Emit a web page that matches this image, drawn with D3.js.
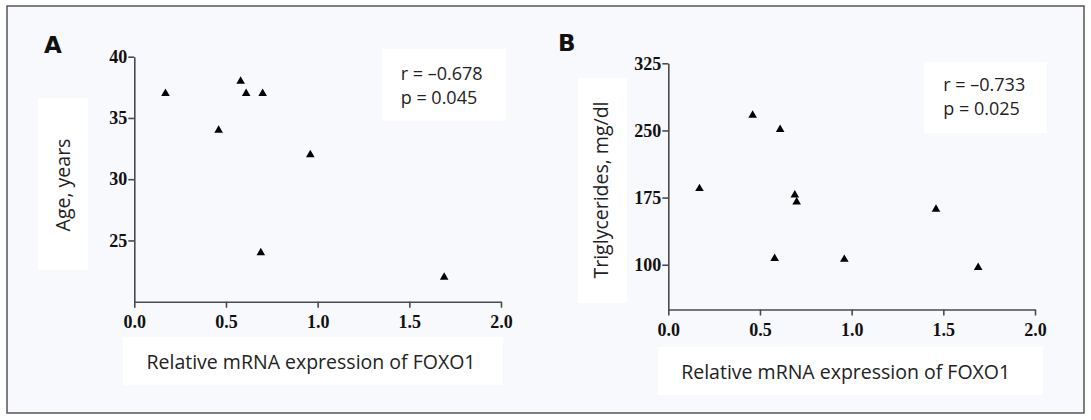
<!DOCTYPE html>
<html><head><meta charset="utf-8">
<script src="https://cdn.jsdelivr.net/npm/d3@7"></script>
<style>html,body{margin:0;padding:0;background:#fff;}svg{display:block;}</style>
</head><body>
<svg id="chart" width="1091" height="420"></svg>
<script>
// Panel A: Age vs FOXO1
const foxoA = [0.17, 0.58, 0.61, 0.70, 0.46, 0.96, 0.69, 1.69];
const ageA  = [37, 38, 37, 37, 34, 32, 24, 22];
// Panel B: Triglycerides vs FOXO1
const foxoB = [0.17, 0.46, 0.61, 0.58, 0.69, 0.70, 0.96, 1.46, 1.69];
const tgB   = [185, 267, 251, 107, 178, 170, 106, 162, 97];
const xTicks = [0, 0.5, 1.0, 1.5, 2.0];
const yTicksA = [25, 30, 35, 40];
const yTicksB = [100, 175, 250, 325];
const statsA = ["r = \u20130.678", "p = 0.045"];
const statsB = ["r = \u20130.733", "p = 0.025"];
const xTitle = "Relative mRNA expression of FOXO1";

const svg = d3.select("#chart");
svg.append("rect").attr("x",7).attr("y",6).attr("width",1077).attr("height",407)
  .attr("fill","#f8f9fc").attr("stroke","#555").attr("stroke-width",1.5);

function panel(cfg){
  const g = svg.append("g");
  cfg.boxes.forEach(b => g.append("rect").attr("x",b[0]).attr("y",b[1]).attr("width",b[2]).attr("height",b[3]).attr("fill","#fff"));
  const x = d3.scaleLinear().domain([0,2]).range(cfg.xr);
  const y = d3.scaleLinear().domain(cfg.yd).range(cfg.yr);
  const xa = g.append("g").attr("transform",`translate(0,${cfg.yr[0]})`)
    .call(d3.axisBottom(x).tickValues(xTicks).tickFormat(d3.format(".1f")).tickSize(6).tickSizeOuter(0));
  const ya = g.append("g").attr("transform",`translate(${cfg.xr[0]},0)`)
    .call(d3.axisLeft(y).tickValues(cfg.yt).tickSize(6).tickSizeOuter(0).tickPadding(1));
  [xa,ya].forEach(a=>{
    a.select(".domain").attr("stroke","#4a4a4a").attr("stroke-width",1.6);
    a.selectAll(".tick line").attr("stroke","#4a4a4a").attr("stroke-width",1.6);
    a.selectAll(".tick text").attr("fill","#111").style("font-family","'Liberation Serif','Times New Roman',serif")
      .style("font-weight","bold").style("font-size","18px");
  });
  xa.selectAll(".tick text").attr("dy","0.95em");
  g.selectAll("path.pt").data(cfg.xs.map((d,i)=>[d,cfg.ys[i]])).enter().append("path")
    .attr("class","pt").attr("d", d3.symbol().type(d3.symbolTriangle).size(32))
    .attr("transform", d=>`translate(${x(d[0])},${y(d[1])})`).attr("fill","#000");
  g.append("text").attr("x",cfg.letter[0]).attr("y",cfg.letter[1]).text(cfg.name)
    .style("font-family","'DejaVu Sans',sans-serif").style("font-weight","bold").style("font-size","23px")
    .attr("text-anchor","middle").attr("dominant-baseline","central").attr("fill","#111");
  g.append("text").attr("transform",`translate(${cfg.ylab[0]},${cfg.ylab[1]}) rotate(-90)`)
    .text(cfg.ytitle).attr("text-anchor","middle").attr("dominant-baseline","central")
    .style("font-family","'Open Sans',sans-serif").style("font-size","19.5px").attr("fill","#222");
  g.append("text").attr("x",cfg.xlab[0]).attr("y",cfg.xlab[1]).text(xTitle)
    .attr("text-anchor","middle").attr("dominant-baseline","central")
    .style("font-family","'Open Sans',sans-serif").style("font-size","19.5px").attr("fill","#222");
  cfg.stats.forEach((s,i)=> g.append("text").attr("x",cfg.st[0]).attr("y",cfg.st[1]+i*23.5).text(s)
    .attr("dominant-baseline","central").style("font-family","'Open Sans',sans-serif")
    .style("font-size","18px").attr("fill","#222"));
}

panel({name:"A", xs:foxoA, ys:ageA, yd:[20,40], yt:yTicksA, xr:[134.3,501], yr:[301.7,56.7],
  boxes:[[38,98,50,172],[382,49,124,72],[123,337,380,48]],
  letter:[53,45], ylab:[62.7,185], xlab:[311,361.7], st:[400.7,73.3], stats:statsA,
  ytitle:"Age, years"});
panel({name:"B", xs:foxoB, ys:tgB, yd:[50,325], yt:yTicksB, xr:[668.3,1035], yr:[309.5,63.3],
  boxes:[[578,78,49,225],[924,62,123,71],[658,347,385,48]],
  letter:[566.7,42.7], ylab:[600,190], xlab:[845.7,371.7], st:[943.3,84], stats:statsB,
  ytitle:"Triglycerides, mg/dl"});
</script>
</body></html>
